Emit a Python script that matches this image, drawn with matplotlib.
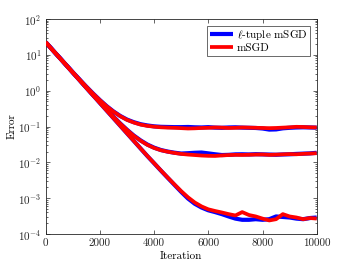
import matplotlib
matplotlib.use("Agg")
import matplotlib.pyplot as plt
from matplotlib.ticker import LogLocator, NullFormatter, FixedLocator

plt.rcParams['font.family'] = 'serif'
plt.rcParams['font.serif'] = ['cmr10']
plt.rcParams['mathtext.fontset'] = 'cm'
plt.rcParams['axes.formatter.use_mathtext'] = True

iterations = list(range(0, 10001, 250))

top_tuple = [22.5, 13.8, 8.53, 5.28, 3.27, 2.05, 1.29, 0.83, 0.545, 0.37, 0.263, 0.197, 0.156, 0.132,
             0.116, 0.107, 0.101, 0.098, 0.097, 0.096, 0.096, 0.097, 0.095, 0.094, 0.096, 0.093, 0.092,
             0.094, 0.095, 0.093, 0.092, 0.091, 0.088, 0.082, 0.083, 0.089, 0.092, 0.094, 0.095, 0.094, 0.093]
top_msgd = [22.4, 13.7, 8.5, 5.25, 3.25, 2.03, 1.28, 0.82, 0.54, 0.365, 0.26, 0.194, 0.153, 0.129,
            0.113, 0.104, 0.099, 0.095, 0.093, 0.092, 0.090, 0.088, 0.089, 0.091, 0.092, 0.094, 0.093,
            0.091, 0.092, 0.094, 0.093, 0.092, 0.091, 0.090, 0.091, 0.093, 0.095, 0.098, 0.097, 0.095, 0.094]
mid_tuple = [22.4, 13.7, 8.45, 5.2, 3.19, 1.97, 1.21, 0.75, 0.47, 0.295, 0.188, 0.1215, 0.081, 0.056,
             0.041, 0.0314, 0.0257, 0.0221, 0.020, 0.0186, 0.0176, 0.018, 0.0185, 0.0188, 0.0178, 0.0168,
             0.016, 0.0162, 0.0167, 0.0168, 0.0166, 0.0169, 0.0167, 0.0165, 0.0163, 0.0166, 0.0168, 0.0172,
             0.0175, 0.0178, 0.0185]
mid_msgd = [22.4, 13.7, 8.44, 5.19, 3.18, 1.96, 1.20, 0.745, 0.468, 0.292, 0.186, 0.12, 0.08, 0.055,
            0.0402, 0.0308, 0.0252, 0.0218, 0.0198, 0.0183, 0.0172, 0.0165, 0.016, 0.0155, 0.0152, 0.0151,
            0.0156, 0.016, 0.0162, 0.0161, 0.0163, 0.0165, 0.0166, 0.0162, 0.0164, 0.0167, 0.017, 0.0168,
            0.0173, 0.0176, 0.018]
low_tuple = [22.4, 13.7, 8.44, 5.19, 3.18, 1.96, 1.20, 0.738, 0.453, 0.278, 0.171, 0.105, 0.0645, 0.0397,
             0.0244, 0.0150, 0.00943, 0.00589, 0.00372, 0.00236, 0.00150, 0.00098, 0.0007, 0.00055, 0.00046,
             0.00041, 0.00036, 0.00031, 0.00027, 0.00025, 0.00025, 0.00026, 0.00025, 0.00026, 0.00031,
             0.00030, 0.00029, 0.00027, 0.00026, 0.00028, 0.00029]
low_msgd = [22.4, 13.7, 8.44, 5.19, 3.18, 1.96, 1.20, 0.738, 0.453, 0.278, 0.171, 0.105, 0.0645, 0.0397,
            0.0244, 0.0151, 0.00948, 0.00595, 0.00378, 0.00242, 0.00157, 0.00106, 0.00076, 0.00059, 0.00049,
            0.00044, 0.0004, 0.00036, 0.00033, 0.00041, 0.00034, 0.00031, 0.00027, 0.00024, 0.00026,
            0.00036, 0.00031, 0.00029, 0.00026, 0.00028, 0.00027]

x_ticks = [0, 2000, 4000, 6000, 8000, 10000]

fig = plt.figure(figsize=(3.5, 2.63), dpi=100)
ax = fig.add_axes([0.1306, 0.110, 0.7743, 0.818])

blue = (0, 0, 1)
red = (1, 0, 0)
pairs = [(top_tuple, top_msgd), (mid_tuple, mid_msgd), (low_tuple, low_msgd)]
for i, (bt, rm) in enumerate(pairs):
    ax.plot(iterations, bt, color=blue, lw=3.0, solid_capstyle='butt',
            label=r'$\ell$-tuple mSGD' if i == 0 else None, zorder=2)
for i, (bt, rm) in enumerate(pairs):
    ax.plot(iterations, rm, color=red, lw=2.7, solid_capstyle='butt',
            label='mSGD' if i == 0 else None, zorder=3)

ax.set_yscale('log')
ax.set_xlim(0, 10000)
ax.set_ylim(1e-4, 1e2)
ax.xaxis.set_major_locator(FixedLocator(x_ticks))
ax.set_xticklabels([str(v) for v in x_ticks])
ax.yaxis.set_major_locator(LogLocator(base=10, numticks=10))
ax.yaxis.set_minor_locator(LogLocator(base=10, subs=range(2, 10), numticks=20))
ax.yaxis.set_minor_formatter(NullFormatter())

spine_col = '#262626'
for s in ax.spines.values():
    s.set_color(spine_col)
    s.set_linewidth(0.6)
ax.tick_params(which='both', direction='in', top=True, right=True, colors=spine_col,
               labelcolor='#262626', labelsize=8, width=0.5)
ax.tick_params(which='major', length=3, pad=3)
ax.tick_params(which='minor', length=1.6)

ax.set_xlabel('Iteration', fontsize=8, labelpad=2.5)
ax.set_ylabel('Error', fontsize=8, labelpad=1)

leg = ax.legend(loc='upper right', fontsize=8, frameon=True, fancybox=False,
                handlelength=2.1, handletextpad=0.3, borderpad=0.25, labelspacing=0.1,
                borderaxespad=0.6)
leg.get_frame().set_edgecolor('#262626')
leg.get_frame().set_linewidth(0.6)

fig.savefig('out.png', dpi=100)
